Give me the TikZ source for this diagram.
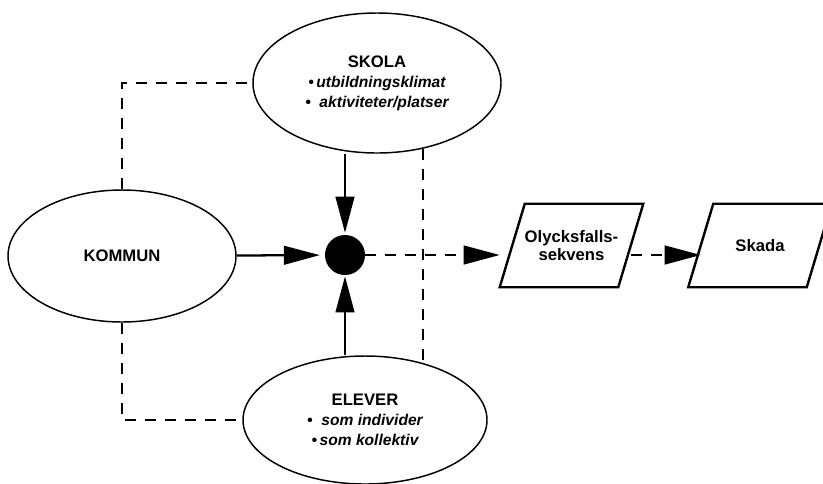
\documentclass[tikz,border=0pt]{standalone}
\usepackage{fontspec}
\setmainfont{Liberation Sans}
\usetikzlibrary{arrows.meta,shapes.geometric}

%% slanted outline round a plain node
\newcommand{\slantbox}[1]{%
  \draw[line width = 1.8pt, line join = miter]
    ([xshift = -9.4pt]#1.south west) -- ([xshift = 9.4pt]#1.north west)
    -- ([xshift = 9.4pt]#1.north east) -- ([xshift = -9.4pt]#1.south east) -- cycle;}
\newcommand{\itm}{\itshape\fontsize{11.7}{15}\selectfont}

\begin{document}
\begin{tikzpicture}[x = 0.75pt, y = -0.75pt,
  every node/.style = {font = \bfseries\fontsize{12.5}{15}\selectfont},
  oval/.style = {draw, ellipse, line width = 1.1pt, inner sep = 0pt, align = center},
  para/.style = {inner sep = 0pt, minimum width = 88.5pt, minimum height = 62.25pt,
    align = center, font = \bfseries\fontsize{12.5}{13.5}\selectfont},
  arr/.style = {line width = 1.7pt, -{Triangle[length = 27pt, width = 14pt]}},
  dasharr/.style = {arr, dash pattern = on 8.25pt off 6.75pt},
  dashline/.style = {line width = 1.5pt, dash pattern = on 8.25pt off 6.75pt}]
\useasboundingbox (0,0) rectangle (823,483);

%% the three actors
\node[oval, minimum width = 171pt, minimum height = 99pt] (kommun) at (122,256) {KOMMUN};
\node[oval, minimum width = 186pt, minimum height = 105pt] (skola) at (377,83)
  {SKOLA\\ \itm •\,utbildningsklimat\\ \itm •\ \ aktiviteter/platser};
\node[oval, minimum width = 183pt, minimum height = 96pt] (elever) at (365,420)
  {ELEVER\\ \itm •\ \ som individer\\ \itm •\,som kollektiv};

%% meeting point and outcome
\node[circle, fill, minimum size = 30pt, inner sep = 0pt] (dot) at (345,255) {};
\node[para] (olyck) at (571.5,245.5) {Olycksfalls-\\sekvens};
\node[para] (skada) at (760,245.5) {Skada};
\slantbox{olyck}
\slantbox{skada}

\draw[arr, shorten > = 3.7pt] (kommun) -- (dot);
\draw[arr, shorten > = 1.5pt] (dot |- skola.south) -- (dot);
\draw[arr, shorten > = 0.8pt] (dot |- elever.north) -- (dot);
\draw[dasharr, shorten > = 9.4pt] (dot.center) -- (dot.center -| olyck.west);
\draw[dasharr] (olyck.east |- dot.center) -- (skada.west |- dot.center);

\draw[dashline] (kommun.north) |- (skola.west);
\draw[dashline] (kommun.south) |- (elever.west);
\draw[dashline] (skola.-55) -- (skola.-55 |- elever.44);
\end{tikzpicture}
\end{document}
